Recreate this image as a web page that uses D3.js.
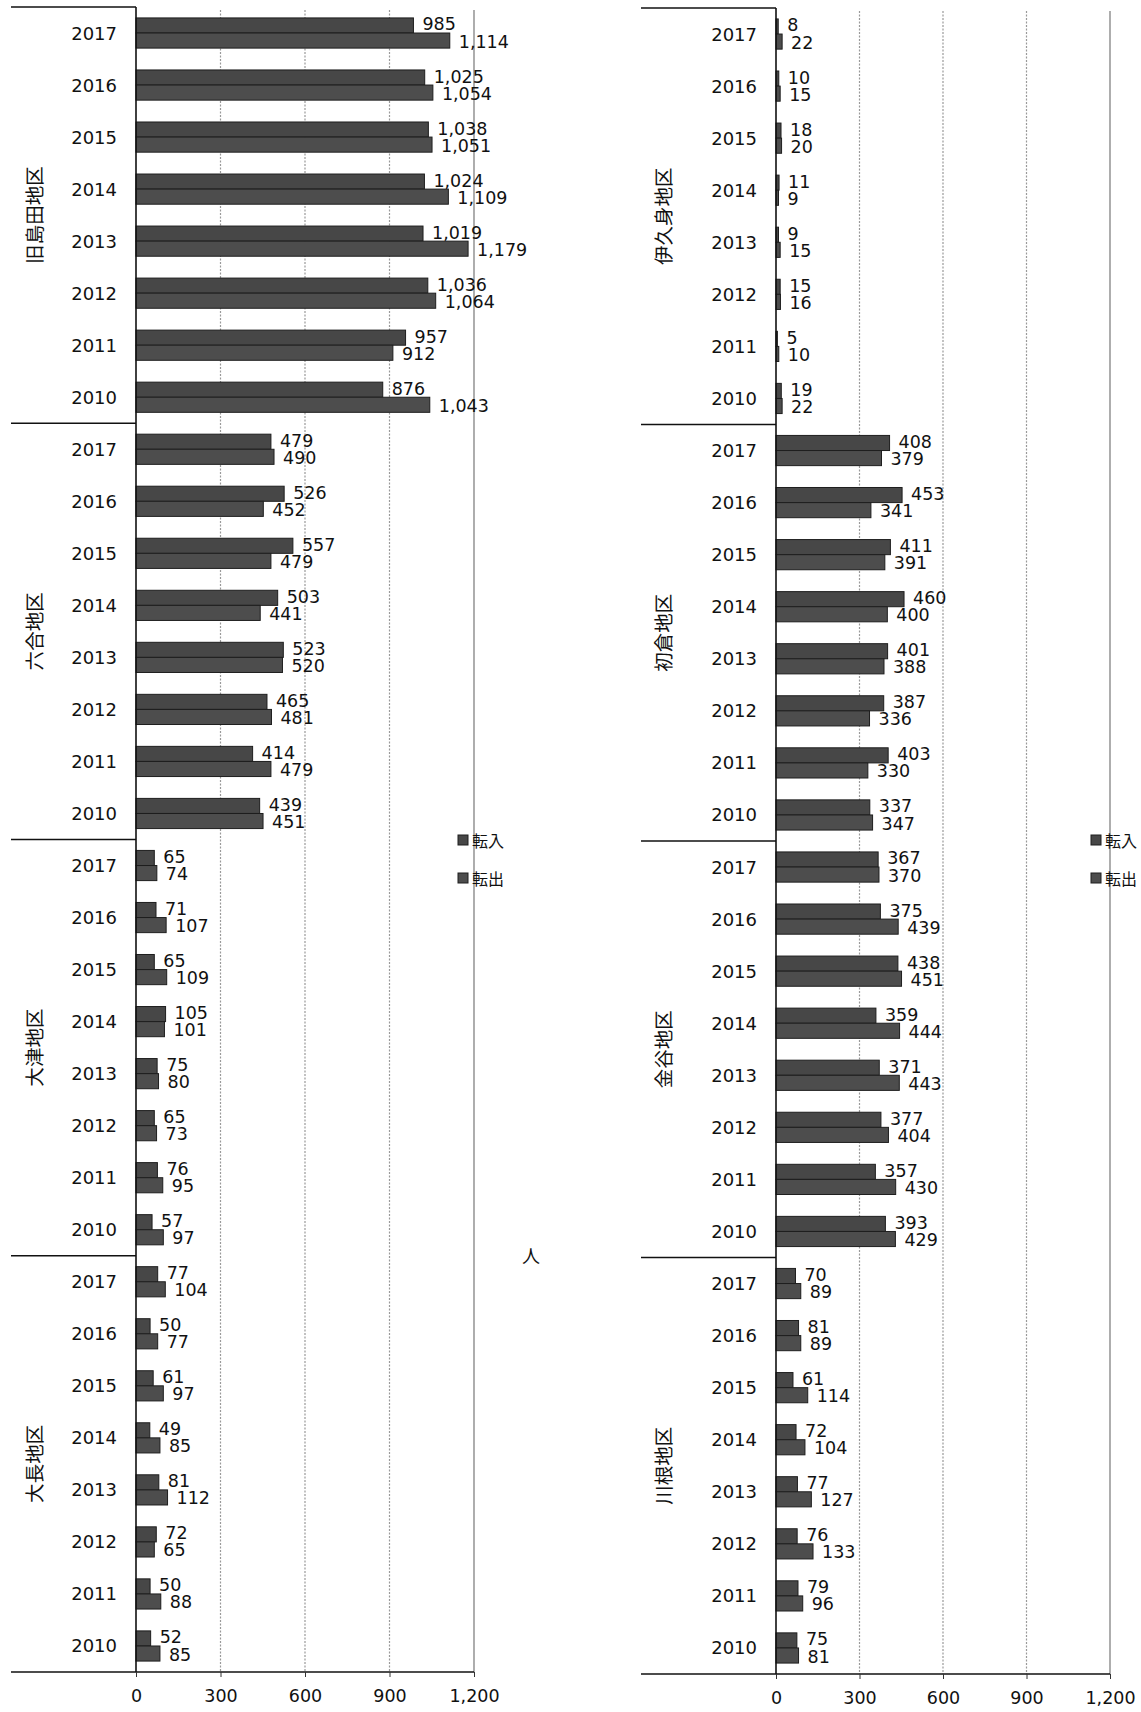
<!DOCTYPE html>
<html><head><meta charset="utf-8">
<script src="https://cdn.jsdelivr.net/npm/d3@7"></script>
<style>
html,body{margin:0;padding:0;background:#fff;}
text{font-family:"DejaVu Sans",Verdana,sans-serif;fill:#111;}
.jp{font-family:"Noto Sans CJK JP","Noto Sans",sans-serif;}
</style></head>
<body>
<svg id="c" width="1141" height="1712"></svg>
<script>
const years = ["2017","2016","2015","2014","2013","2012","2011","2010"];
const series = ["転入","転出"];
const ticks = [0,300,600,900,1200];
const unitLabel = "人";

const leftRegions = ["旧島田地区","六合地区","大津地区","大長地区"];
const rightRegions = ["伊久身地区","初倉地区","金谷地区","川根地区"];

// values per region, in year order 2017..2010
const tennyu = {
  "旧島田地区":[985,1025,1038,1024,1019,1036,957,876],
  "六合地区":[479,526,557,503,523,465,414,439],
  "大津地区":[65,71,65,105,75,65,76,57],
  "大長地区":[77,50,61,49,81,72,50,52],
  "伊久身地区":[8,10,18,11,9,15,5,19],
  "初倉地区":[408,453,411,460,401,387,403,337],
  "金谷地区":[367,375,438,359,371,377,357,393],
  "川根地区":[70,81,61,72,77,76,79,75]
};
const tenshutsu = {
  "旧島田地区":[1114,1054,1051,1109,1179,1064,912,1043],
  "六合地区":[490,452,479,441,520,481,479,451],
  "大津地区":[74,107,109,101,80,73,95,97],
  "大長地区":[104,77,97,85,112,65,88,85],
  "伊久身地区":[22,15,20,9,15,16,10,22],
  "初倉地区":[379,341,391,400,388,336,330,347],
  "金谷地区":[370,439,451,444,443,404,430,429],
  "川根地区":[89,89,114,104,127,133,96,81]
};

const svg = d3.select("#c");
const fmt = d3.format(",");
const colors = {"転入":"#474747","転出":"#4d4d4d"};

function panel(cfg){
  const g = svg.append("g");
  const x = d3.scaleLinear().domain([0,1200]).range([cfg.x0, cfg.x1]);
  const keys = [];
  cfg.regions.forEach(r=>years.forEach(yr=>keys.push(r+"|"+yr)));
  const y = d3.scaleBand().domain(keys).range([cfg.top, cfg.bottom]).paddingInner(0.42).paddingOuter(0.21);
  const sub = d3.scaleBand().domain(series).range([0, y.bandwidth()]);
  const step = y.step();

  // gridlines
  g.selectAll(".grid").data(ticks.slice(1)).enter().append("line")
    .attr("x1",d=>x(d)).attr("x2",d=>x(d))
    .attr("y1",cfg.top+3).attr("y2",cfg.bottom)
    .attr("stroke",d=>d===1200?"#777":"#999").attr("stroke-width",1.2)
    .attr("stroke-dasharray",d=>d===1200?null:"2,1.5");

  // bars
  const rows = [];
  cfg.regions.forEach(r=>years.forEach((yr,i)=>{
    rows.push({key:r+"|"+yr, s:"転入", v:tennyu[r][i]});
    rows.push({key:r+"|"+yr, s:"転出", v:tenshutsu[r][i]});
  }));
  g.selectAll(".bar").data(rows).enter().append("rect")
    .attr("x",x(0)).attr("y",d=>y(d.key)+sub(d.s))
    .attr("width",d=>x(d.v)-x(0)).attr("height",sub.bandwidth())
    .attr("fill",d=>colors[d.s]).attr("stroke","#1e1e1e").attr("stroke-width",1);

  g.selectAll(".vl").data(rows).enter().append("text")
    .attr("x",d=>x(d.v)+9).attr("y",d=>y(d.key)+sub(d.s)+sub.bandwidth()/2 + (d.s==="転入"?-1:1))
    .attr("dominant-baseline","central").attr("font-size",17.5)
    .text(d=>fmt(d.v));

  // year labels
  g.selectAll(".yl").data(keys).enter().append("text")
    .attr("x",x(0)-19).attr("y",d=>y(d)+y.bandwidth()/2)
    .attr("text-anchor","end").attr("dominant-baseline","central").attr("font-size",18)
    .text(d=>d.split("|")[1]);

  // region separators & labels
  cfg.regions.forEach((r,i)=>{
    const yTop = cfg.top + i*8*step;
    g.append("line").attr("x1",cfg.lineStart).attr("x2",x(0)).attr("y1",yTop).attr("y2",yTop)
      .attr("stroke","#111").attr("stroke-width",1.6);
    const yc = yTop + 4*step;
    g.append("text").attr("class","jp")
      .attr("transform",`translate(${cfg.regionX},${yc}) rotate(-90)`)
      .attr("text-anchor","middle").attr("dominant-baseline","central").attr("font-size",19.5)
      .text(r);
  });

  // axis vertical line
  g.append("line").attr("x1",x(0)).attr("x2",x(0)).attr("y1",cfg.top).attr("y2",cfg.bottom)
    .attr("stroke","#111").attr("stroke-width",1.6);
  // bottom axis
  g.append("line").attr("x1",cfg.lineStart).attr("x2",x(1200)).attr("y1",cfg.bottom).attr("y2",cfg.bottom)
    .attr("stroke","#111").attr("stroke-width",1.6);
  const ax = g.append("g").attr("transform",`translate(0,${cfg.bottom})`)
    .call(d3.axisBottom(x).tickValues(ticks).tickFormat(fmt).tickSize(5).tickPadding(13));
  ax.select(".domain").remove();
  ax.selectAll("line").attr("stroke","#333");
  ax.selectAll("text").attr("font-size",17.5).attr("font-family","DejaVu Sans").attr("fill","#111");

  // legend
  const lg = g.append("g");
  series.forEach((s,i)=>{
    lg.append("rect").attr("x",cfg.legX).attr("y",cfg.legY + i*38 - 5).attr("width",10).attr("height",10)
      .attr("fill",colors[s]).attr("stroke","#1e1e1e");
    lg.append("text").attr("class","jp").attr("x",cfg.legX+14).attr("y",cfg.legY + i*38)
      .attr("dominant-baseline","central").attr("font-size",16).text(s);
  });
  return x;
}

panel({regions:leftRegions, x0:136, x1:474, top:7, bottom:1672, lineStart:11, regionX:33, legX:458, legY:840});
panel({regions:rightRegions, x0:776, x1:1110, top:8, bottom:1674, lineStart:641, regionX:662, legX:1091, legY:840});

svg.append("text").attr("class","jp").attr("x",531).attr("y",1255)
  .attr("text-anchor","middle").attr("dominant-baseline","central").attr("font-size",18).text(unitLabel);
</script>
</body></html>
